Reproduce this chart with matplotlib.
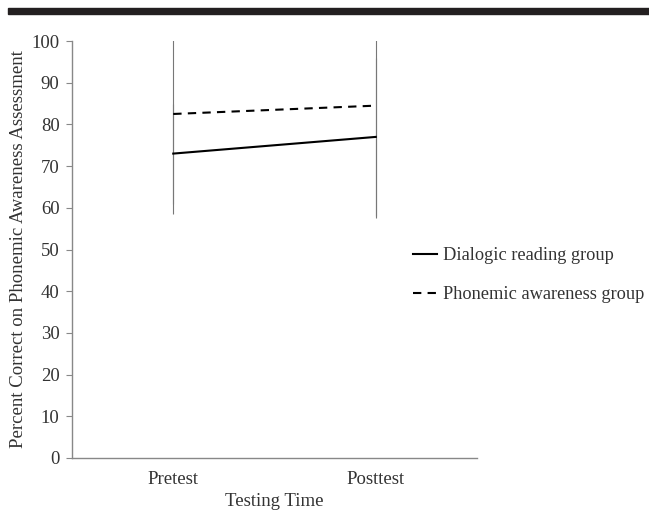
import numpy as np
import matplotlib.pyplot as plt
from matplotlib.patches import Rectangle
from matplotlib.lines import Line2D

plt.rcParams['font.family'] = ['Liberation Serif', 'DejaVu Serif']

times = ['Pretest', 'Posttest']
dialogic = [73.0, 77.0]
dialogic_err = [12.0, 19.0]
phonemic = [82.5, 84.5]
phonemic_err = [24.0, 27.0]

fig = plt.figure(figsize=(6.49, 5.24), dpi=100)
ax = fig.add_axes([72/649, 1 - 458/524, 405/649, 417/524])

# top rule across the page
fig.patches.append(Rectangle((8/649, 1 - 14/524), 1, 6/524, transform=fig.transFigure,
                             color='#231f20', zorder=5))

x = np.arange(len(times))
ax.errorbar(x, dialogic, yerr=dialogic_err, color='black', lw=1.5, ls='-',
            ecolor='#777777', elinewidth=0.8, capsize=0)
ax.errorbar(x, phonemic, yerr=phonemic_err, color='black', lw=1.5, ls=(0, (4, 3)),
            ecolor='#777777', elinewidth=0.8, capsize=0)

ax.set_xlim(-0.5, 1.5)
ax.set_ylim(0, 100)
ax.set_yticks(range(0, 101, 10))
ax.set_xticks(x)
ax.set_xticklabels(times)
ax.tick_params(axis='x', length=0, pad=9, labelsize=13.5, colors='#333333')
ax.tick_params(axis='y', length=4, width=0.8, color='#888888', pad=5, labelsize=13.5,
               colors='#333333')
for s in ['top', 'right']:
    ax.spines[s].set_visible(False)
for s in ['left', 'bottom']:
    ax.spines[s].set_color('#888888')
    ax.spines[s].set_linewidth(1.0)

ax.set_xlabel('Testing Time', fontsize=13.5, color='#333333', labelpad=4)
ax.set_ylabel('Percent Correct on Phonemic Awareness Assessment', fontsize=13.5,
              color='#333333', labelpad=3)

handles = [Line2D([], [], color='black', lw=1.5, ls='-'),
           Line2D([], [], color='black', lw=1.5, ls=(0, (4, 3)))]
labels = ['Dialogic reading group', 'Phonemic awareness group']
leg = fig.legend(handles, labels, loc='upper left', bbox_to_anchor=(406/649, 1 - 240/524),
                 frameon=False, fontsize=13.2, handlelength=1.3, handletextpad=0.3,
                 labelspacing=1.2, borderaxespad=0)
for t in leg.get_texts():
    t.set_color('#333333')

fig.savefig('out.png', dpi=100)
